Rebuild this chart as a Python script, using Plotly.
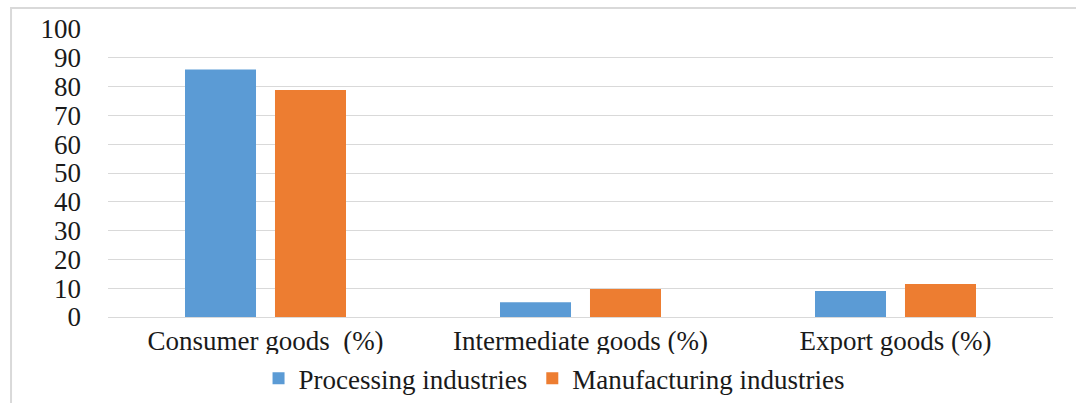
import plotly.graph_objects as go

# Shares of output by goods type (%)
categories = ["Consumer goods  (%)", "Intermediate goods (%)", "Export goods (%)"]
processing = [85.9, 5.1, 9.0]
manufacturing = [78.8, 9.7, 11.5]
y_ticks = [0, 10, 20, 30, 40, 50, 60, 70, 80, 90, 100]

BLUE = "#5B9BD5"
ORANGE = "#ED7D31"
GRID = "#D9D9D9"
TEXT = "#1A1A1A"
FONT = "Liberation Serif"
SIZE = 27

fig = go.Figure()
fig.add_trace(go.Bar(name="Processing industries", x=categories, y=processing,
                     marker=dict(color=BLUE, line=dict(width=0))))
fig.add_trace(go.Bar(name="Manufacturing industries", x=categories, y=manufacturing,
                     marker=dict(color=ORANGE, line=dict(width=0))))

fig.update_layout(
    width=1076, height=403,
    margin=dict(l=108, r=23, t=29, b=86, autoexpand=False),
    paper_bgcolor="white", plot_bgcolor="white",
    barmode="group", bargap=0.4286, bargroupgap=0.211,
    font=dict(family=FONT, color=TEXT, size=SIZE),
    showlegend=True,
    legend=dict(orientation="h", x=0.472, xanchor="center",
                yref="container", y=0.06, yanchor="middle",
                font=dict(family=FONT, size=SIZE, color=TEXT),
                tracegroupgap=0, itemwidth=30, traceorder="normal"),
    xaxis=dict(showgrid=False, showline=True, linecolor=GRID, linewidth=1,
               ticks="", tickfont=dict(family=FONT, size=SIZE, color=TEXT)),
    yaxis=dict(range=[0, 100], tickvals=y_ticks, showgrid=True, gridcolor=GRID,
               gridwidth=1, zeroline=False, showline=False, ticks="",
               ticklabelstandoff=26,
               tickfont=dict(family=FONT, size=SIZE, color=TEXT)),
    shapes=[dict(type="rect", xref="paper", yref="paper",
                 x0=-0.1026, x1=1.2, y0=-0.5, y1=1.0729,
                 line=dict(color=GRID, width=2), fillcolor="rgba(0,0,0,0)",
                 layer="below")],
)

fig.write_html("out.html")
